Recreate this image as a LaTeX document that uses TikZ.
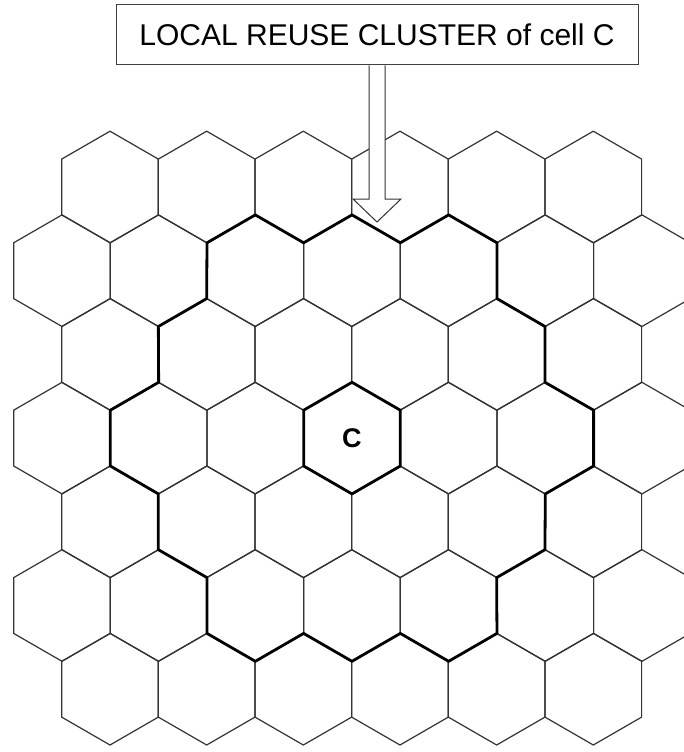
\documentclass[tikz,border=0pt]{standalone}
\usepackage{fontspec}
\setsansfont{Liberation Sans}
\usepackage{tikz}
\usetikzlibrary{calc,shapes.geometric}

\begin{document}
\begin{tikzpicture}[
  x=1pt, y=-1pt,
  hexcell/.style={regular polygon, regular polygon sides=6, shape border rotate=30,
    minimum size=111.6pt, inner sep=0pt, outer sep=0pt, draw=black!80, line width=1.2pt},
  cluster/.style={draw=black, line width=2.8pt, line join=round},
  labelbox/.style={draw=black!75, fill=white, line width=1pt, minimum width=522pt,
    minimum height=60pt, inner sep=0pt, font=\sffamily\fontsize{30}{36}\selectfont},
  hollowarrow/.style={draw=black!80, fill=white, line width=1pt, line join=miter},
  celltag/.style={font=\sffamily\bfseries\fontsize{27}{32}\selectfont}
]
\useasboundingbox (0,0) rectangle (684,752);
\clip (0,0) rectangle (684,752);
% cell grid
\foreach \r in {0,2,4,6}
  \foreach \c in {0,...,5}
    \node[hexcell] (c-\r-\c) at ({110+96.66*\c},{187+83.7*\r}) {};
\foreach \r in {1,3,5}
  \foreach \c in {0,...,6}
    \node[hexcell] (c-\r-\c) at ({62+96.66*\c},{187+83.7*\r}) {};
% reuse cluster outline
\draw[cluster] (c-1-2.150) -- (c-1-2.90) -- (c-1-2.30) -- (c-1-3.90) -- (c-1-3.30)
  -- (c-1-4.90) -- (c-1-4.30) -- (c-1-4.-30) -- (c-2-4.30) -- (c-2-4.-30)
  -- (c-3-5.30) -- (c-3-5.-30) -- (c-3-5.-90) -- (c-4-4.-30) -- (c-4-4.-90)
  -- (c-5-4.-30) -- (c-5-4.-90) -- (c-5-3.-30) -- (c-5-3.-90) -- (c-5-2.-30)
  -- (c-5-2.-90) -- (c-5-2.210) -- (c-5-2.150) -- (c-4-1.210) -- (c-4-1.150)
  -- (c-3-1.210) -- (c-3-1.150) -- (c-3-1.90) -- (c-2-1.150) -- (c-2-1.90) -- cycle;
% cell C
\draw[cluster] (c-3-3.90) -- (c-3-3.30) -- (c-3-3.-30) -- (c-3-3.-90)
  -- (c-3-3.210) -- (c-3-3.150) -- cycle;
\node[celltag] (tagC) at (c-3-3) {C};
% label and arrow
\node[labelbox] (reuse) at (377,35) {LOCAL REUSE CLUSTER of cell C};
\coordinate (target) at (377,222);
\draw[hollowarrow] ($(reuse.south)+(-8,0)$) -- ($(target)+(-8,-23)$)
  -- ($(target)+(-24,-23)$) -- (target) -- ($(target)+(24,-23)$)
  -- ($(target)+(8,-23)$) -- ($(reuse.south)+(8,0)$);
\end{tikzpicture}
\end{document}
